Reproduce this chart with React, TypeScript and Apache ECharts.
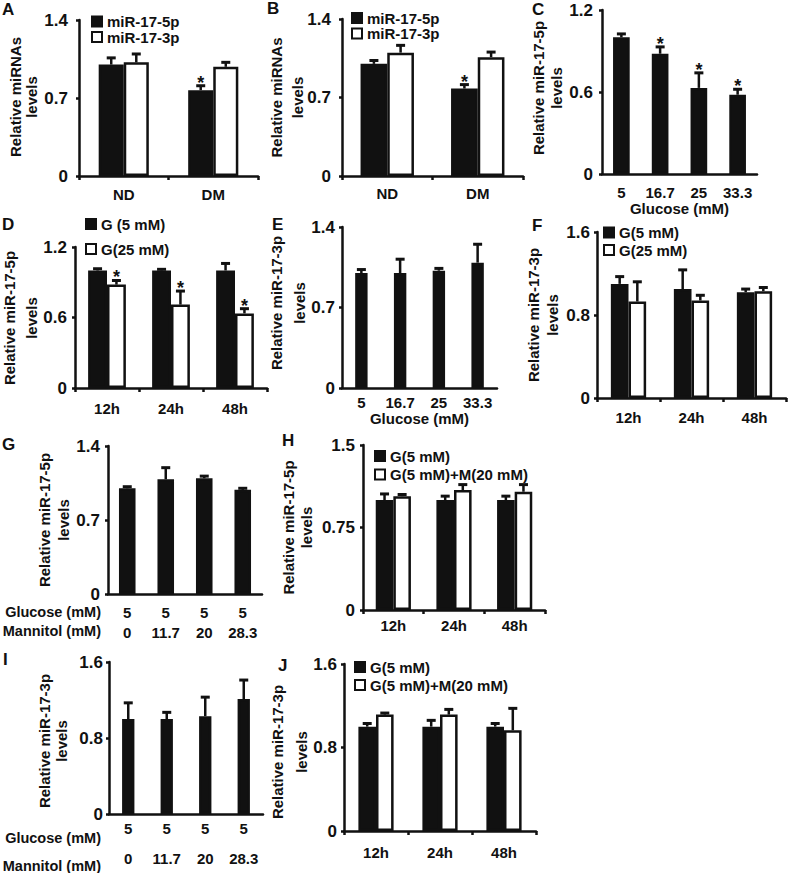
import React, { useEffect, useRef } from "react";
import * as echarts from "echarts";

const FONT = "'Liberation Sans', Arial, Helvetica, sans-serif";
const INK = "#111111";

// ---------- data ----------
// A
const catsA = ["ND", "DM"];
const ticksA = [0, 0.7, 1.4];
const a5p = [1.0, 0.77];
const a5pSD = [0.06, 0.04];
const a5pStar = [0, 1];
const a3p = [1.02, 0.98];
const a3pSD = [0.075, 0.04];
const a3pStar = [0, 0];
// B
const catsB = ["ND", "DM"];
const ticksB = [0, 0.7, 1.4];
const b5p = [1.0, 0.78];
const b5pSD = [0.03, 0.035];
const b5pStar = [0, 1];
const b3p = [1.1, 1.06];
const b3pSD = [0.065, 0.045];
const b3pStar = [0, 0];
// C
const catsC = ["5", "16.7", "25", "33.3"];
const ticksC = [0, 0.6, 1.2];
const c5p = [1.0, 0.88, 0.63, 0.58];
const c5pSD = [0.025, 0.05, 0.11, 0.04];
const c5pStar = [0, 1, 1, 1];
// D
const catsD = ["12h", "24h", "48h"];
const ticksD = [0, 0.6, 1.2];
const dG5 = [1.0, 1.0, 1.0];
const dG5SD = [0.015, 0.01, 0.06];
const dG5Star = [0, 0, 0];
const dG25 = [0.88, 0.71, 0.635];
const dG25SD = [0.035, 0.115, 0.04];
const dG25Star = [1, 1, 1];
// E
const catsE = ["5", "16.7", "25", "33.3"];
const ticksE = [0, 0.7, 1.4];
const e3p = [1.0, 1.0, 1.02, 1.09];
const e3pSD = [0.03, 0.12, 0.02, 0.16];
const e3pStar = [0, 0, 0, 0];
// F
const catsF = ["12h", "24h", "48h"];
const ticksF = [0, 0.8, 1.6];
const fG5 = [1.1, 1.05, 1.02];
const fG5SD = [0.07, 0.185, 0.03];
const fG5Star = [0, 0, 0];
const fG25 = [0.93, 0.94, 1.03];
const fG25SD = [0.19, 0.05, 0.035];
const fG25Star = [0, 0, 0];
// G
const glucoseG = ["5", "5", "5", "5"];
const mannitolG = ["0", "11.7", "20", "28.3"];
const ticksG = [0, 0.7, 1.4];
const g5p = [1.0, 1.085, 1.095, 0.985];
const g5pSD = [0.015, 0.11, 0.02, 0.015];
const g5pStar = [0, 0, 0, 0];
// H
const catsH = ["12h", "24h", "48h"];
const ticksH = [0, 0.75, 1.5];
const hG5 = [1.0, 1.0, 1.0];
const hG5SD = [0.055, 0.035, 0.035];
const hG5Star = [0, 0, 0];
const hG5M = [1.035, 1.09, 1.075];
const hG5MSD = [0.015, 0.05, 0.065];
const hG5MStar = [0, 0, 0];
// I
const glucoseI = ["5", "5", "5", "5"];
const mannitolI = ["0", "11.7", "20", "28.3"];
const ticksI = [0, 0.8, 1.6];
const i3p = [1.0, 1.0, 1.03, 1.21];
const i3pSD = [0.17, 0.07, 0.2, 0.2];
const i3pStar = [0, 0, 0, 0];
// J
const catsJ = ["12h", "24h", "48h"];
const ticksJ = [0, 0.8, 1.6];
const jG5 = [1.0, 1.0, 1.0];
const jG5SD = [0.03, 0.06, 0.03];
const jG5Star = [0, 0, 0];
const jG5M = [1.115, 1.115, 0.965];
const jG5MSD = [0.015, 0.05, 0.21];
const jG5MStar = [0, 0, 0];

// ---------- panel layout ----------
type S = { name: string; values: number[]; sd: number[]; stars: number[]; white: boolean };
type Panel = {
  letter: string; lx: number; ly: number;
  grid: { left: number; top: number; width: number; height: number };
  ticks: number[]; cats: string[];
  yName: [string, string]; yNameX: [number, number]; yNameY: number; yLabelMargin: number;
  xLabelMargin: number; xLineHeight?: number; xTicks: boolean;
  xName?: string; xNameGap?: number;
  gap: number; series: S[];
  legend?: { left: number; top: number; itemGap: number; lineHeight: number };
};

const two = (a: string[], b: string[]) => a.map((v, k) => v + "\n" + b[k]);
const NAME_MIR = "Relative miRNAs";
const NAME_5P = "Relative miR-17-5p";
const NAME_3P = "Relative miR-17-3p";
const LEVELS = "levels";

const panels: Panel[] = [
  {
    letter: "A", lx: 2, ly: 1, grid: { left: 79, top: 20, width: 179, height: 156 },
    ticks: ticksA, cats: catsA, yName: [NAME_MIR, LEVELS], yNameX: [15, 31], yNameY: 97, yLabelMargin: 11,
    xLabelMargin: 11, xTicks: true, gap: 0.44,
    series: [
      { name: "miR-17-5p", values: a5p, sd: a5pSD, stars: a5pStar, white: false },
      { name: "miR-17-3p", values: a3p, sd: a3pSD, stars: a3pStar, white: true },
    ],
    legend: { left: 91, top: 14, itemGap: 0.5, lineHeight: 14 },
  },
  {
    letter: "B", lx: 267, ly: 0, grid: { left: 342, top: 19, width: 181, height: 157 },
    ticks: ticksB, cats: catsB, yName: [NAME_MIR, LEVELS], yNameX: [276, 297.5], yNameY: 97.5, yLabelMargin: 11,
    xLabelMargin: 10, xTicks: true, gap: 0.41,
    series: [
      { name: "miR-17-5p", values: b5p, sd: b5pSD, stars: b5pStar, white: false },
      { name: "miR-17-3p", values: b3p, sd: b3pSD, stars: b3pStar, white: true },
    ],
    legend: { left: 351, top: 10.5, itemGap: 0.5, lineHeight: 14 },
  },
  {
    letter: "C", lx: 532, ly: 1, grid: { left: 602, top: 10, width: 155, height: 164 },
    ticks: ticksC, cats: catsC, yName: [NAME_5P, LEVELS], yNameX: [538.5, 556.5], yNameY: 88, yLabelMargin: 9,
    xLabelMargin: 11, xTicks: false, xName: "Glucose (mM)", xNameGap: 23, gap: 0.57,
    series: [{ name: "miR-17-5p C", values: c5p, sd: c5pSD, stars: c5pStar, white: false }],
  },
  {
    letter: "D", lx: 2, ly: 216, grid: { left: 75, top: 247, width: 192, height: 141 },
    ticks: ticksD, cats: catsD, yName: [NAME_5P, LEVELS], yNameX: [9, 31], yNameY: 318, yLabelMargin: 8,
    xLabelMargin: 13, xTicks: true, gap: 0.41,
    series: [
      { name: "G (5 mM)", values: dG5, sd: dG5SD, stars: dG5Star, white: false },
      { name: "G(25 mM)", values: dG25, sd: dG25SD, stars: dG25Star, white: true },
    ],
    legend: { left: 85, top: 216.5, itemGap: 10, lineHeight: 15 },
  },
  {
    letter: "E", lx: 272, ly: 216, grid: { left: 342, top: 227, width: 155, height: 161 },
    ticks: ticksE, cats: catsE, yName: [NAME_3P, LEVELS], yNameX: [276.5, 299], yNameY: 303, yLabelMargin: 7,
    xLabelMargin: 7, xTicks: false, xName: "Glucose (mM)", xNameGap: 19, gap: 0.68,
    series: [{ name: "miR-17-3p E", values: e3p, sd: e3pSD, stars: e3pStar, white: false }],
  },
  {
    letter: "F", lx: 532, ly: 217, grid: { left: 597, top: 232, width: 189, height: 166 },
    ticks: ticksF, cats: catsF, yName: [NAME_3P, LEVELS], yNameX: [533, 552.5], yNameY: 315, yLabelMargin: 7,
    xLabelMargin: 11.5, xTicks: true, gap: 0.44,
    series: [
      { name: "G(5 mM)", values: fG5, sd: fG5SD, stars: fG5Star, white: false },
      { name: "G(25 mM)", values: fG25, sd: fG25SD, stars: fG25Star, white: true },
    ],
    legend: { left: 603, top: 225, itemGap: 2.5, lineHeight: 15 },
  },
  {
    letter: "G", lx: 2, ly: 436, grid: { left: 108, top: 446, width: 154, height: 148 },
    ticks: ticksG, cats: two(glucoseG, mannitolG), yName: [NAME_5P, LEVELS], yNameX: [44.5, 63.5], yNameY: 520,
    yLabelMargin: 8, xLabelMargin: 8, xLineHeight: 20, xTicks: false, gap: 0.57,
    series: [{ name: "miR-17-5p G", values: g5p, sd: g5pSD, stars: g5pStar, white: false }],
  },
  {
    letter: "H", lx: 282, ly: 432, grid: { left: 363, top: 445, width: 182, height: 165 },
    ticks: ticksH, cats: catsH, yName: [NAME_5P, LEVELS], yNameX: [288.5, 306.5], yNameY: 527.5, yLabelMargin: 8,
    xLabelMargin: 8, xTicks: true, gap: 0.42,
    series: [
      { name: "G(5 mM)", values: hG5, sd: hG5SD, stars: hG5Star, white: false },
      { name: "G(5 mM)+M(20 mM)", values: hG5M, sd: hG5MSD, stars: hG5MStar, white: true },
    ],
    legend: { left: 374, top: 448.5, itemGap: 3.5, lineHeight: 15 },
  },
  {
    letter: "I", lx: 3, ly: 651, grid: { left: 109, top: 662, width: 154, height: 162 },
    ticks: ticksI, cats: two(glucoseI, mannitolI), yName: [NAME_3P, LEVELS], yNameX: [44.5, 61.5], yNameY: 741,
    yLabelMargin: 6, xLabelMargin: -1, xLineHeight: 30, xTicks: false, gap: 0.68,
    series: [{ name: "miR-17-3p I", values: i3p, sd: i3pSD, stars: i3pStar, white: false }],
  },
  {
    letter: "J", lx: 278, ly: 657, grid: { left: 344, top: 664, width: 192, height: 167 },
    ticks: ticksJ, cats: catsJ, yName: [NAME_3P, LEVELS], yNameX: [277.5, 301], yNameY: 752, yLabelMargin: 7,
    xLabelMargin: 14, xTicks: true, gap: 0.45,
    series: [
      { name: "G(5 mM)", values: jG5, sd: jG5SD, stars: jG5Star, white: false },
      { name: "G(5 mM)+M(20 mM)", values: jG5M, sd: jG5MSD, stars: jG5MStar, white: true },
    ],
    legend: { left: 354, top: 659.5, itemGap: 3, lineHeight: 15 },
  },
];

// row titles for G and I
const rowTitles = [
  { text: "Glucose (mM)", x: 101, y: 612 },
  { text: "Mannitol (mM)", x: 101, y: 631 },
  { text: "Glucose (mM)", x: 101, y: 838 },
  { text: "Mannitol (mM)", x: 101, y: 866 },
];

const boldText = { fontSize: 15, fontWeight: "bold" as const, color: INK, fontFamily: FONT };

function buildOption() {
  const grid: any[] = [];
  const xAxis: any[] = [];
  const yAxis: any[] = [];
  const series: any[] = [];
  const legend: any[] = [];
  const graphic: any[] = [];

  panels.forEach((p, i) => {
    grid.push({ ...p.grid, containLabel: false });
    const max = p.ticks[p.ticks.length - 1];
    const interval = p.ticks[1] - p.ticks[0];
    xAxis.push({
      type: "category",
      gridIndex: i,
      data: p.cats,
      axisLine: { lineStyle: { color: INK, width: 2.5 } },
      axisTick: { show: p.xTicks, length: 4, lineStyle: { color: INK, width: 2.5 } },
      axisLabel: {
        ...boldText,
        interval: 0,
        margin: p.xLabelMargin,
        lineHeight: p.xLineHeight ?? 15,
      },
      name: p.xName ?? "",
      nameLocation: "middle",
      nameGap: p.xNameGap ?? 20,
      nameTextStyle: { ...boldText },
    });
    yAxis.push({
      type: "value",
      gridIndex: i,
      min: 0,
      max,
      interval,
      axisLine: { show: true, lineStyle: { color: INK, width: 2.5 } },
      axisTick: { show: true, length: 3, lineStyle: { color: INK, width: 2.5 } },
      splitLine: { show: false },
      axisLabel: { fontSize: 17, fontWeight: "bold", color: INK, fontFamily: FONT, margin: p.yLabelMargin },
    });
    const n = p.series.length;
    const errData: number[][] = [];
    p.series.forEach((s, k) => {
      series.push({
        type: "bar",
        name: s.name,
        xAxisIndex: i,
        yAxisIndex: i,
        data: s.values,
        barGap: "0%",
        barCategoryGap: Math.round(p.gap * 100) + "%",
        itemStyle: { color: s.white ? "#ffffff" : INK, borderColor: INK, borderWidth: 2.5 },
        emphasis: { disabled: true },
        z: 2,
      });
      s.values.forEach((v, c) => errData.push([c, v, s.sd[c], k, s.stars[c]]));
    });
    const gap = p.gap;
    series.push({
      type: "custom",
      name: "err" + p.letter,
      xAxisIndex: i,
      yAxisIndex: i,
      z: 5,
      data: errData,
      renderItem: (_params: any, api: any) => {
        const cat = api.value(0);
        const v = api.value(1);
        const sd = api.value(2);
        const slot = api.value(3);
        const star = api.value(4);
        const base = api.coord([cat, v]);
        const top = api.coord([cat, v + sd]);
        const band = api.size([1, 0])[0];
        const w = (band * (1 - gap)) / n;
        const x = base[0] + (slot - (n - 1) / 2) * w;
        const children: any[] = [
          { type: "line", shape: { x1: x, y1: base[1], x2: x, y2: top[1] }, style: { stroke: INK, lineWidth: 2.5 } },
          { type: "line", shape: { x1: x - 4.5, y1: top[1], x2: x + 4.5, y2: top[1] }, style: { stroke: INK, lineWidth: 3 } },
        ];
        if (star) {
          children.push({
            type: "text",
            x,
            y: top[1] + 6,
            style: {
              text: "*",
              fontSize: 18,
              fontWeight: "bold",
              fontFamily: FONT,
              fill: INK,
              align: "center",
              verticalAlign: "bottom",
            },
          });
        }
        return { type: "group", children };
      },
    });
    if (p.legend) {
      legend.push({
        orient: "vertical",
        left: p.legend.left,
        top: p.legend.top,
        padding: 0,
        itemGap: p.legend.itemGap,
        itemWidth: 10,
        itemHeight: 10,
        icon: "rect",
        selectedMode: false,
        textStyle: { ...boldText, lineHeight: p.legend.lineHeight },
        data: p.series.map((s) => ({
          name: s.name,
          itemStyle: { color: s.white ? "#ffffff" : INK, borderColor: INK, borderWidth: 2 },
        })),
      });
    }
    graphic.push({
      type: "text",
      left: p.lx,
      top: p.ly,
      style: { text: p.letter, fontSize: 17, fontWeight: "bold", fontFamily: FONT, fill: INK },
    });
    // rotated two-line y-axis title
    p.yName.forEach((t, k) => {
      graphic.push({
        type: "text",
        x: p.yNameX[k],
        y: p.yNameY,
        rotation: Math.PI / 2,
        style: {
          text: t,
          fontSize: 15,
          fontWeight: "bold",
          fontFamily: FONT,
          fill: INK,
          align: "center",
          verticalAlign: "middle",
          textAlign: "center",
          textVerticalAlign: "middle",
        },
      });
    });
  });

  rowTitles.forEach((r) => {
    graphic.push({
      type: "text",
      x: r.x,
      y: r.y,
      style: {
        text: r.text,
        fontSize: 14.5,
        fontWeight: "bold",
        fontFamily: FONT,
        fill: INK,
        align: "right",
        verticalAlign: "middle",
        textAlign: "right",
        textVerticalAlign: "middle",
      },
    });
  });

  return {
    animation: false,
    backgroundColor: "#ffffff",
    textStyle: { fontFamily: FONT },
    grid,
    xAxis,
    yAxis,
    series,
    legend,
    graphic,
  };
}

export default function App() {
  const ref = useRef<HTMLDivElement>(null);
  useEffect(() => {
    document.body.style.margin = "0";
    const chart = echarts.init(ref.current!, null, { renderer: "svg" });
    chart.setOption(buildOption() as any);
    return () => chart.dispose();
  }, []);
  return (
    <div
      ref={ref}
      style={{ position: "absolute", left: 0, top: 0, width: 789, height: 873, background: "#ffffff" }}
    />
  );
}
